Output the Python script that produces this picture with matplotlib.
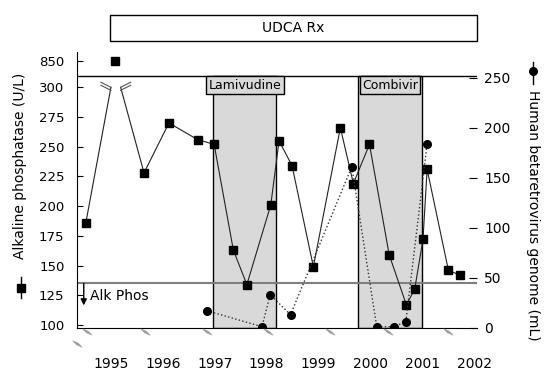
import matplotlib
matplotlib.use("Agg")
import matplotlib.pyplot as plt
from matplotlib.lines import Line2D
from matplotlib.patches import Rectangle

# Alkaline phosphatase (U/L) - squares, left axis
alp_year = [1994.52, 1995.08, 1995.64, 1996.12, 1996.67, 1996.99, 1997.36, 1997.62,
            1998.08, 1998.24, 1998.49, 1998.90, 1999.42, 1999.67, 1999.98, 2000.36,
            2000.69, 2000.85, 2001.01, 2001.09, 2001.50, 2001.72]
alp_value = [186, 850, 228, 270, 256, 252, 163, 134, 201, 255, 234, 149, 266, 219,
             252, 159, 117, 130, 172, 231, 146, 142]

# Human betaretrovirus genome - circles, right axis
hbrv_year = [1996.85, 1997.91, 1998.07, 1998.46, 1999.64, 2000.12, 2000.45, 2000.68, 2001.09]
hbrv_value = [17, 1, 33, 13, 161, 1, 1, 6, 184]

years = [1995, 1996, 1997, 1998, 1999, 2000, 2001, 2002]
left_ticks = [100, 125, 150, 175, 200, 225, 250, 275, 300]
right_ticks = [0, 50, 100, 150, 200, 250]

treatments = ["Lamivudine", "Combivir"]
treat_start = [1996.97, 1999.75]
treat_end = [1998.19, 2001.00]

alk_phos_limit = 135  # normal upper limit line

W, H = 556, 387
fig = plt.figure(figsize=(W / 100, H / 100), dpi=100)
ax = fig.add_axes([77 / W, 59 / H, 400 / W, 276 / H])

y_lo, y_hi = 97.48, 329.7
break_top = 309.5     # top of the main frame (axis break)
big_pos = 322.4       # where the out-of-range value is drawn
ax.set_ylim(y_lo, y_hi)
ax.set_xlim(1994.35, 2002.05)

# treatment periods
for name, x0, x1 in zip(treatments, treat_start, treat_end):
    ax.add_patch(Rectangle((x0, y_lo), x1 - x0, break_top - y_lo,
                           facecolor="#d9d9d9", edgecolor="black", lw=1, zorder=1))
    ax.text((x0 + x1) / 2, 301.9, name, ha="center", va="center", fontsize=9,
            zorder=5, bbox=dict(boxstyle="square,pad=0.2", fc="#d9d9d9", ec="black", lw=1))

ax.axhline(break_top, color="black", lw=1, zorder=2)
ax.axhline(alk_phos_limit, color="#7f7f7f", lw=1.5, zorder=2)

# ALP series with axis break
disp = [v if v <= 300 else big_pos for v in alp_value]
bi = [i for i, v in enumerate(alp_value) if v > 300][0]
xl, xr = alp_year[bi] - 0.077, alp_year[bi] + 0.11
ax.plot(alp_year[:bi] + [xl], disp[:bi] + [300], color="#222222", lw=0.8, zorder=3)
ax.plot([xr] + alp_year[bi + 1:], [300] + disp[bi + 1:], color="#222222", lw=0.8, zorder=3)
ax.plot(alp_year, disp, ls="none", marker="s", ms=6, color="black", zorder=4)

# break marks
for xc, s in [(xl, 1), (xr, -1)]:
    p0 = ax.transData.transform((xc, 300))
    for dy in (0, 3):
        fig.add_artist(Line2D([(p0[0] - s * 10) / W, p0[0] / W],
                              [(p0[1] + 5 - dy) / H, (p0[1] - dy) / H],
                              color="#555555", lw=0.8))

ax.set_yticks(left_ticks + [big_pos])
ax.set_yticklabels([str(t) for t in left_ticks] + ["850"])
ax.tick_params(axis="y", direction="in", length=4, pad=9, labelsize=9.5)
ax.set_xticks(years)
ax.set_xticklabels([str(y) for y in years])
ax.tick_params(axis="x", length=0, pad=21, labelsize=10)
ax.spines["top"].set_visible(False)
ax.spines["right"].set_visible(False)

# right axis
ax2 = ax.twinx()
ax2.set_ylim(-0.3, 275.7)
ax2.plot(hbrv_year, hbrv_value, ls=":", lw=1, color="#333333", marker="o", ms=5.5,
         mfc="black", mec="black", zorder=4)
ax2.set_yticks(right_ticks)
ax2.tick_params(axis="y", direction="in", length=6, pad=5, labelsize=10)
for sp in ax2.spines.values():
    sp.set_visible(False)

# Alk Phos annotation
ax.annotate("", xy=(1994.48, 116.5), xytext=(1994.48, alk_phos_limit),
            arrowprops=dict(arrowstyle="-|>", color="black", lw=1, mutation_scale=9,
                            shrinkA=0, shrinkB=0))
ax.text(1994.6, 124, "Alk Phos", fontsize=10, va="center", ha="left")

# hatch marks below the axis
for px, py in [(87, 329), (145, 329), (207, 329), (268, 329), (330, 329), (388, 329),
               (448, 329), (77, 341)]:
    for k in range(5):
        x0 = px - 4 + 1.2 * k
        y0 = py + 0.5 * k
        fig.add_artist(Line2D([x0 / W, (x0 + 4) / W], [1 - y0 / H, 1 - (y0 + 4) / H],
                              color="#9a9a9a", lw=0.6))

# UDCA Rx box
fig.add_artist(Rectangle((110 / W, 1 - 40.7 / H), 366.7 / W, 25.7 / H,
                         transform=fig.transFigure, fill=False, ec="black", lw=1))
fig.text(293 / W, 1 - 28 / H, "UDCA Rx", ha="center", va="center", fontsize=10)

# axis titles with legend glyphs
fig.text(20 / W, 1 - 166 / H, "Alkaline phosphatase (U/L)", rotation=90,
         ha="center", va="center", fontsize=10)
fig.add_artist(Line2D([21 / W, 21 / W], [1 - 277 / H, 1 - 298 / H], color="black", lw=1))
fig.add_artist(Line2D([21 / W], [1 - 287.5 / H], marker="s", ms=6, color="black"))

fig.text(533 / W, 1 - 215 / H, "Human betaretrovirus genome (mL)", rotation=-90,
         ha="center", va="center", fontsize=10)
fig.add_artist(Line2D([533 / W, 533 / W], [1 - 62 / H, 1 - 84 / H], color="black", lw=1))
fig.add_artist(Line2D([533 / W], [1 - 71 / H], marker="o", ms=5.5, color="black"))

fig.savefig("out.png", dpi=100)
